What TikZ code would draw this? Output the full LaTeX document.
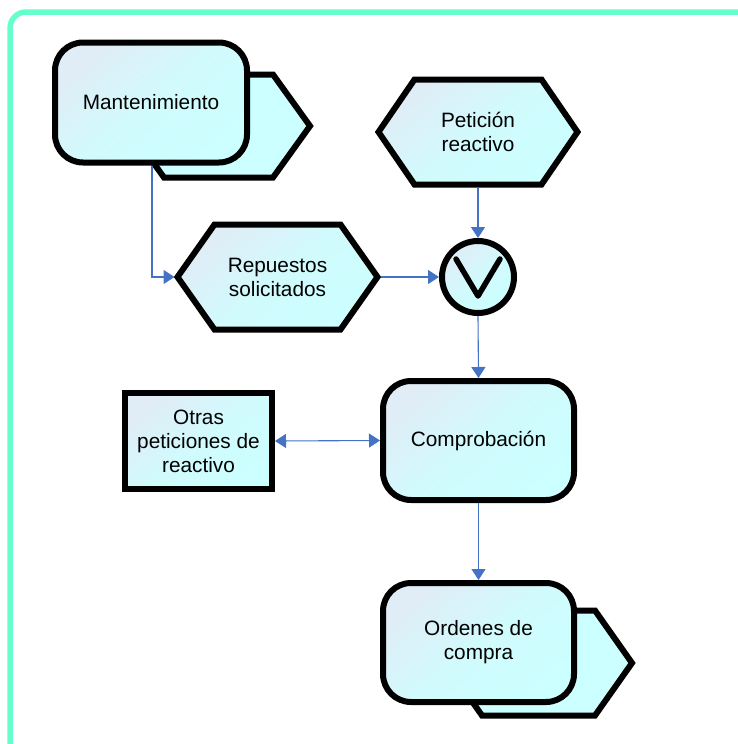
\documentclass[tikz,border=0pt]{standalone}
\usepackage{fontspec}
\setmainfont{Liberation Sans}
\usetikzlibrary{arrows.meta}
\definecolor{framegreen}{RGB}{102,255,204}
\definecolor{paleA}{RGB}{224,236,246}
\definecolor{paleB}{RGB}{204,255,255}
\definecolor{linkblue}{RGB}{68,114,196}
\pgfdeclarelayer{background}
\pgfsetlayers{background,main}
\newcommand{\diagfont}{\fontsize{20.8}{24}\selectfont}
% hexagon outline through the anchors of a (text-only) node; #2 = width of the pointed ends
\newcommand{\hexoutline}[2]{(#1.west) -- ([xshift=#2]#1.north west) -- ([xshift=-#2]#1.north east) -- (#1.east) -- ([xshift=-#2]#1.south east) -- ([xshift=#2]#1.south west) -- cycle}
\tikzset{
  shape line/.style={draw=black, line width=6pt, line join=miter},
  soft fill/.style={top color=paleA, bottom color=paleB, middle color=paleB!75!paleA, shading angle=40},
  box/.style={shape line, soft fill, rounded corners=28pt, inner sep=0pt, outer sep=3pt, align=center, font=\diagfont},
  plainbox/.style={shape line, soft fill, inner sep=0pt, outer sep=3pt, align=center, font=\diagfont},
  textbox/.style={inner sep=0pt, outer sep=0pt, align=center, font=\diagfont},
  link/.style={draw=linkblue, line width=1.1pt, -{Triangle[length=11pt,width=14pt]}},
  twolink/.style={draw=linkblue, line width=1.1pt, {Triangle[length=11pt,width=14pt]}-{Triangle[length=11pt,width=14pt]}},
}
\begin{document}
\begin{tikzpicture}[x=1pt,y=-1pt]
\useasboundingbox (0,0) rectangle (738,744);
\clip (0,0) rectangle (738,744);

% hexagon-shaped objects: text nodes on top, outlines on the background layer
\node[textbox, minimum width=183, minimum height=103] (mantback) at (218.5,126) {};
\node[textbox, minimum width=199, minimum height=105] (pet) at (478,132) {Petición\\reactivo};
\node[textbox, minimum width=200, minimum height=105] (rep) at (277.5,277) {Repuestos\\solicitados};
\node[textbox, minimum width=187, minimum height=105] (ordback) at (538.5,663) {};
\begin{pgfonlayer}{background}
  \fill[white] (0,0) rectangle (738,744);
  % outer frame
  \draw[framegreen, line width=5.5pt, rounded corners=16pt] (10,12) rectangle (770,770);
  \draw[shape line, fill=paleB] \hexoutline{mantback}{37};
  \draw[shape line, soft fill] \hexoutline{pet}{36};
  \draw[shape line, soft fill] \hexoutline{rep}{37};
  \draw[shape line, fill=paleB] \hexoutline{ordback}{37};
\end{pgfonlayer}

% functions and other boxes
\node[box, minimum width=192, minimum height=120] (mant) at (151,102.5) {Mantenimiento};
\node[box, minimum width=191, minimum height=119] (comp) at (478.5,440.5) {Comprobación};
\node[plainbox, minimum width=147, minimum height=96] (otras) at (198.5,441) {Otras\\peticiones de\\reactivo};
\node[box, minimum width=191, minimum height=119] (ord) at (478.5,642.5) {Ordenes de\\compra};

% OR connector
\node[shape line, soft fill, circle, minimum size=72, inner sep=0pt, outer sep=3pt] (orc) at (478,277) {};
\draw[line width=5.5pt, line join=round, line cap=round]
  ([shift={(-22,-18)}]orc.center) -- ([shift={(0,19)}]orc.center) -- ([shift={(22,-18)}]orc.center);

% connectors
\draw[link, shorten >=3pt] ([xshift=1]mant.south) |- (rep.west);
\draw[link, shorten <=3pt] (pet.south) -- (orc.north);
\draw[link, shorten <=3pt] (rep.east) -- (orc.west);
\draw[link] (orc.south) -- (comp.north);
\draw[twolink] (otras.east) -- (comp.west);
\draw[link] (comp.south) -- (ord.north);
\end{tikzpicture}
\end{document}
